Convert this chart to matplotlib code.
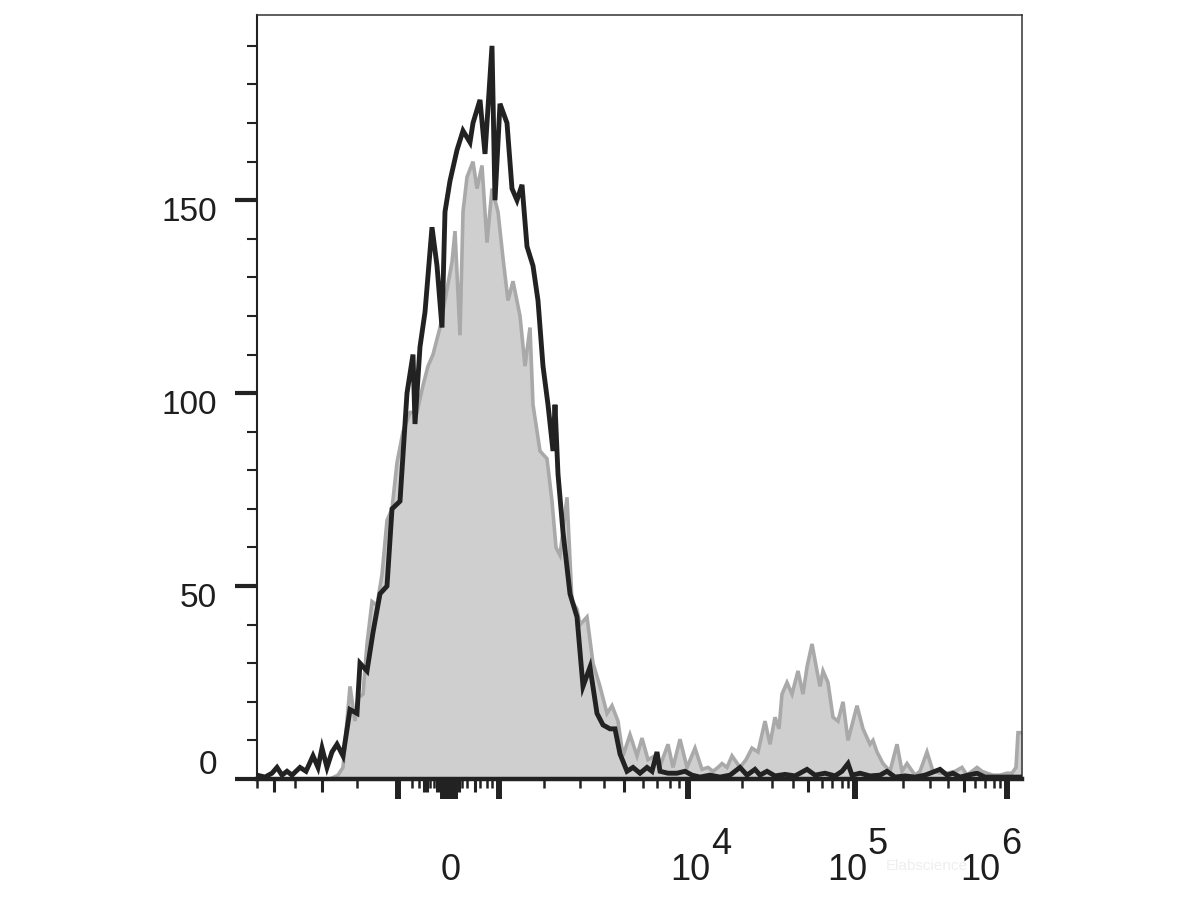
import matplotlib
matplotlib.use("Agg")
import matplotlib.pyplot as plt
from matplotlib.transforms import ScaledTranslation, blended_transform_factory
import numpy as np

plt.rcParams['font.family'] = ['Liberation Sans', 'DejaVu Sans']

# ---------------- data (display channel units, 0..765) ----------------
black_x = [0, 8, 15, 20, 25, 30, 35, 43, 49, 56, 61, 65, 70, 75, 80, 86, 93, 100, 103, 110,
           116, 123, 130, 135, 143, 150, 156, 158, 163, 168, 175, 180, 185, 188, 193, 200,
           206, 213, 216, 223, 228, 235, 238, 243, 250, 255, 260, 265, 270, 276, 281, 286,
           291, 296, 298, 301, 306, 313, 320, 326, 333, 340, 346, 353, 358, 363, 370, 376,
           383, 390, 395, 400, 403, 411, 420, 428, 435, 443, 453, 463, 473, 483, 490, 498,
           503, 510, 518, 528, 538, 550, 558, 568, 578, 585, 591, 595, 603, 613, 623, 630,
           638, 648, 658, 668, 683, 690, 696, 703, 711, 720, 728, 738, 748, 758, 765]
black_y = [1, 0.5, 1.5, 3, 1, 2, 1, 3, 2, 6, 3, 8, 3, 7, 9, 6, 18, 17, 30, 28,
           38, 48, 50, 70, 72, 100, 110, 92, 112, 121, 143, 133, 117, 147, 155, 163,
           168, 165, 170, 176, 162, 190, 150, 175, 170, 153, 150, 154, 138, 133, 124, 107,
           97, 85, 97, 79, 64, 48, 42, 24, 29, 17, 14, 13, 13, 6.5, 2, 3,
           1.5, 3, 2, 7, 2, 1.5, 1.5, 2, 1, 0.5, 1, 0.5, 1, 3, 1, 2.5,
           1, 2, 0.8, 1.2, 0.8, 2.5, 1, 1.5, 0.8, 2, 4, 1, 1.5, 0.8, 1, 2,
           0.5, 0.8, 0.5, 1, 2.5, 1, 1.5, 0.5, 1, 1.5, 0.5, 0.5, 0.5, 0.5, 0.5]

gray_x = [0, 73, 81, 86, 93, 98, 101, 106, 110, 115, 120, 125, 130, 135, 140, 146, 153, 160,
          166, 171, 176, 183, 190, 195, 198, 203, 206, 210, 216, 220, 225, 230, 235, 241,
          246, 251, 256, 263, 268, 273, 276, 283, 290, 295, 299, 303, 310, 315, 320, 323,
          330, 336, 343, 350, 355, 361, 366, 373, 380, 385, 391, 398, 404, 411, 416, 423,
          430, 438, 445, 451, 456, 461, 465, 470, 475, 483, 489, 495, 501, 508, 513, 518,
          522, 525, 530, 535, 541, 546, 550, 555, 560, 563, 566, 571, 576, 581, 586, 591,
          595, 600, 606, 613, 616, 620, 626, 633, 640, 645, 650, 658, 663, 670, 676, 683,
          690, 698, 705, 710, 715, 720, 725, 730, 736, 743, 750, 755, 759, 761, 765]
gray_y = [0, 0, 1, 3, 24, 15, 21, 22, 35, 46, 45, 53, 67, 70, 82, 90, 95, 95,
          102, 107, 110, 117, 127, 134, 142, 115, 147, 156, 160, 153, 159, 139, 153, 147,
          135, 124, 129, 120, 107, 117, 97, 85, 83, 72, 60, 58, 73, 46, 44, 40,
          42, 30, 24, 17, 19, 15, 6, 11.5, 6, 10.6, 5, 6, 4, 9, 3, 10.3,
          3, 8, 2.5, 3, 2, 3, 4, 3, 6, 3, 5, 8, 7, 15, 9, 16,
          13, 22, 25, 22, 28, 22, 29, 35, 28, 24, 28, 25, 16, 15, 20, 10,
          14, 19, 13, 9, 10, 7, 4, 2, 9, 2, 4, 1, 2, 7, 2, 1.5,
          1.5, 2, 3, 1, 2, 3, 2, 1.5, 1, 1, 1.5, 1.5, 3, 12, 12]

# axis ticks (channel units)
y_major = [0, 50, 100, 150]
y_minor = list(range(10, 200, 10))
x_major = [141, 186, 189, 192, 195, 198, 242, 431, 598, 750]
x_medium = [17, 65, 167, 170, 180, 183, 202, 218, 367, 551, 707]
x_minor = [0, 38, 100, 155, 162, 173, 177, 205, 210, 223, 230, 235, 287, 323, 347, 386,
           400, 413, 422, 485, 515, 536, 565, 575, 585, 591, 646, 673, 691, 718, 728,
           737, 743]
x_labels = [("0", None), ("10", "4"), ("10", "5"), ("10", "6")]
x_label_pos = [194, 433, 590, 723]

TXT = '#1e1e1e'

# ---------------- figure ----------------
fig = plt.figure(figsize=(12, 9), dpi=100)
ax = fig.add_axes([257 / 1200, 1 - 779 / 900, 765 / 1200, 764 / 900])

ax.fill_between(gray_x, 0, gray_y, color='#cfcfcf', lw=0, zorder=1)
ax.plot(gray_x, gray_y, color='#a9a9a9', lw=2.6, zorder=2, solid_joinstyle='miter')
ax.plot(black_x, black_y, color='#222222', lw=3.5, zorder=3, solid_joinstyle='miter')

ax.set_xlim(0, 765)
ax.set_ylim(0, 198)

for side in ['top', 'right']:
    ax.spines[side].set_linewidth(1.1)
    ax.spines[side].set_color('#333333')
ax.spines['left'].set_linewidth(1.5)
ax.spines['left'].set_color('#222222')
ax.spines['bottom'].set_linewidth(3.2)
ax.spines['bottom'].set_color('#222222')
ax.spines['bottom'].set_zorder(5)

# y ticks
ax.set_yticks(y_major)
ax.set_yticks(y_minor, minor=True)
ax.tick_params(axis='y', which='major', direction='out', length=16, width=3,
               color='#222222', labelleft=False)
ax.tick_params(axis='y', which='minor', direction='out', length=7, width=1.5,
               color='#222222')

ytrans = blended_transform_factory(ax.transAxes, ax.transData)
for v in y_major:
    dy = -12 / 100 if v != 0 else 14 / 100
    t = ytrans + ScaledTranslation(-40 / 100, dy, fig.dpi_scale_trans)
    ax.text(0, v, str(v), transform=t, ha='right', va='center',
            fontsize=24, color=TXT)

# x ticks
ax.set_xticks(x_major)
ax.set_xticks(x_minor, minor=True)
ax.tick_params(axis='x', which='major', direction='out', length=14.5, width=4.3,
               color='#222222', labelbottom=False)
ax.tick_params(axis='x', which='minor', direction='out', length=6.5, width=1.8,
               color='#222222')
sec = ax.secondary_xaxis('bottom')
sec.spines['bottom'].set_visible(False)
sec.set_xticks(x_medium)
sec.tick_params(axis='x', which='major', direction='out', length=9.5, width=2.2,
                color='#222222', labelbottom=False)
sec.tick_params(axis='x', which='minor', length=0)

xtrans = blended_transform_factory(ax.transData, fig.transFigure)
for (base, exp), xp in zip(x_labels, x_label_pos):
    ax.text(xp, 1 - 871 / 900, base, transform=xtrans, ha='center', va='center',
            fontsize=26, color=TXT)
    if exp is not None:
        t = xtrans + ScaledTranslation(21 / 100, 0, fig.dpi_scale_trans)
        ax.text(xp, 1 - 845 / 900, exp, transform=t, ha='left', va='center',
                fontsize=26, color=TXT)

# faint watermark
fig.text(886 / 1200, 1 - 866 / 900, "Elabscience", fontsize=11, color='#efefef',
         ha='left', va='center', zorder=0)

fig.savefig("out.png", dpi=100)
